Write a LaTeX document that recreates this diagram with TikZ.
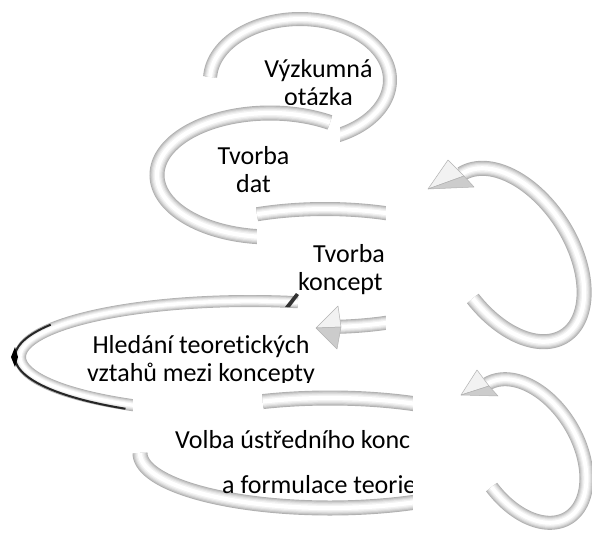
\documentclass[tikz,border=0pt]{standalone}
\usepackage{fontspec}
\setmainfont{Carlito}[Ligatures={NoCommon,NoContextual}]
% cx cy a b phi t1 t2 width
\newcommand\tubering[8]{%
  \foreach \rf/\rc in {1/gray!62,0.88/gray!46,0.74/gray!32,0.6/gray!20,0.45/gray!10,0.28/white}{%
    \draw[line width={\rf*#8 pt}, draw=\rc, line cap=butt]
      plot[domain=#6:#7, samples=100, variable=\t]
      ({#1+#3*cos(\t)*cos(#5)-#4*sin(\t)*sin(#5)},
       {#2+#3*cos(\t)*sin(#5)+#4*sin(\t)*cos(#5)});
  }}
\begin{document}
\begin{tikzpicture}[x=1pt,y=-1pt,
  lbl/.style={font=\fontsize{26}{28}\selectfont, inner sep=0pt, anchor=base},
  lblw/.style={lbl, anchor=base west},
  whitebox/.style={fill=white, draw=none},
  headlight/.style={fill=gray!10, draw=gray!60, line width=0.5pt, line join=round},
  headdark/.style={fill=gray!40, draw=gray!60, line width=0.5pt, line join=round}]
\useasboundingbox (0,0) rectangle (592,536);
\fill[white] (0,0) rectangle (592,536);

% ---- item 1
\tubering{300}{80}{90}{61}{0}{183}{440}{14}
\node[lbl] (t1a) at (318.5,77) {Výzkumná};
\begin{scope}
  \clip (0,0) rectangle (592,104);
  \node[lbl] (t1b) at (318.5,105) {otázka};
\end{scope}
\path[whitebox] (290,117) rectangle (340,152);

% ---- item 2
\tubering{270}{175}{113}{62}{0}{90}{302}{15}
\node[lbl] (t2a) at (253.5,164) {Tvorba};
\node[lbl] (t2b) at (253.5,192) {dat};
\path[whitebox] (257,220) rectangle (386,255);

% ---- item 3
\tubering{325}{268}{165}{59}{0}{245.7}{445.8}{14}
\coordinate (h3tip) at (316,328);
\coordinate (h3a) at (338,306);
\coordinate (h3m) at (341,327);
\coordinate (h3b) at (337,349);
\filldraw[headlight] (h3tip) -- (h3a) -- (h3m) -- cycle;
\filldraw[headdark] (h3tip) -- (h3m) -- (h3b) -- cycle;
\begin{scope}
  \clip (0,0) rectangle (385,536);
  \node[lbl] (t3a) at (349,262) {Tvorba};
  \node[lblw] (t3b) at (298,290) {koncept};
\end{scope}
\path[whitebox] (386,148) rectangle (592,368);

% ---- right arrow 1
\tubering{513}{255}{96}{58}{57.4}{180}{441}{15}
\coordinate (h1tip) at (428,189);
\coordinate (h1a) at (448,160);
\coordinate (h1m) at (464,176);
\coordinate (h1b) at (474,187);
\filldraw[headlight] (h1tip) -- (h1a) -- (h1m) -- cycle;
\filldraw[headdark] (h1tip) -- (h1m) -- (h1b) -- cycle;

% ---- item 4
\tubering{250}{357}{230}{56}{0}{110}{282}{12}
\draw[black!85, line width=2pt]
  plot[domain=122:212, samples=60, variable=\t] ({250+235*cos(\t)},{357+61*sin(\t)});
\fill[black] (15,347) -- (11,357) -- (15,367) -- (18,357) -- cycle;
\fill[black!80] (285,307) -- (296,293) -- (299,295) -- (290,307) -- cycle;
\begin{scope}
  \clip (0,0) rectangle (592,382);
  \node[lbl] (t4a) at (201,353) {Hledání teoretických};
  \node[lbl] (t4b) at (201,381) {vztahů mezi koncepty};
\end{scope}
\path[whitebox] (133,390) rectangle (200,430);

% ---- item 5
\tubering{330}{453}{190}{55}{0}{50}{180}{15}
\tubering{330}{453}{190}{55}{0}{249.3}{310}{15}
\begin{scope}
  \clip (0,0) rectangle (412,536);
  \node[lblw] (t5a) at (175,448) {Volba ústředního konc};
  \node[lblw] (t5b) at (222,493) {a formulace teorie};
\end{scope}
\path[whitebox] (413,368) rectangle (592,536);

% ---- right arrow 2
\tubering{527.5}{451}{78.3}{50}{58.8}{180}{441}{14}
\coordinate (h2tip) at (461,395);
\coordinate (h2a) at (477,370);
\coordinate (h2m) at (489,386);
\coordinate (h2b) at (498,396);
\filldraw[headlight] (h2tip) -- (h2a) -- (h2m) -- cycle;
\filldraw[headdark] (h2tip) -- (h2m) -- (h2b) -- cycle;
\end{tikzpicture}
\end{document}
